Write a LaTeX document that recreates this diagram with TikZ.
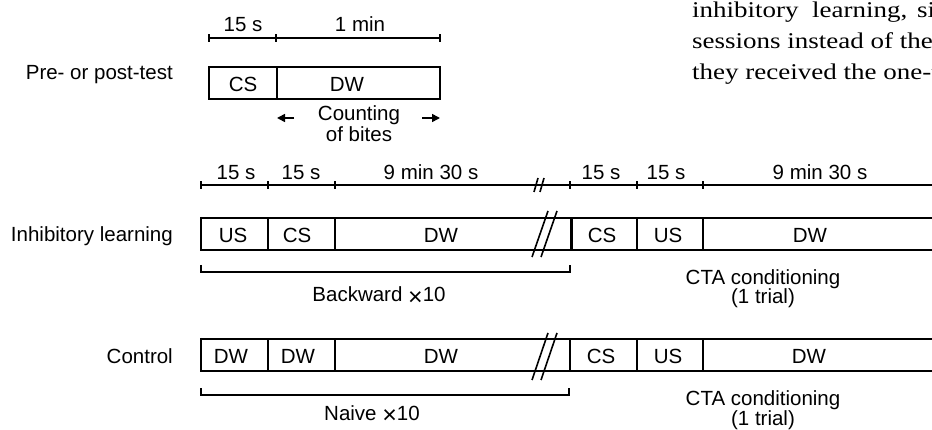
\documentclass[tikz,border=0pt]{standalone}
\usepackage{fontspec}
\setmainfont{Liberation Sans}
\newfontfamily\bodyserif{Liberation Serif}[FakeStretch=1.2]
\usetikzlibrary{arrows.meta}
\newcommand{\bigtimes}{\raisebox{-3.5pt}{\fontsize{25}{25}\selectfont ×}}
\begin{document}
\begin{tikzpicture}[x=1pt,y=-1pt,
  lbl/.style={anchor=base, inner sep=0pt, font=\fontsize{20.5}{23}\selectfont},
  rlbl/.style={lbl, anchor=base east},
  sertext/.style={anchor=base west, inner sep=0pt, font=\bodyserif\fontsize{22.5}{32}\selectfont},
  boxline/.style={line width=2pt},
  thickdiv/.style={line width=3pt},
  scaleline/.style={line width=1.6pt},
  brk/.style={line width=1.6pt},
  brack/.style={line width=1.2pt},
  tickmark/.style={fill=black, inner sep=0pt, minimum width=1.8pt, minimum height=8pt},
  arr/.style={-{Triangle[length=8pt,width=8pt]}, line width=1.6pt}]
\useasboundingbox (0,0) rectangle (932,430);
\clip (0,0) rectangle (932,430);

% ---------- page text (top right) ----------
\node[sertext] (pa) at (692,17.3) {inhibitory};
\node[sertext] (pb) at (812,17.3) {learning,};
\node[sertext] (pc) at (917,17.3) {si};
\node[sertext] (pd) at (692,48.5) {sessions instead of the};
\node[sertext] (pe) at (692,80) {they received the one-t};

% ---------- pre/post test ----------
\node[rlbl] (lpre) at (173,80) {Pre- or post-test};
\node[tickmark] (ta) at (209,38) {};
\node[tickmark] (tb) at (276,38) {};
\node[tickmark] (tc) at (440,38) {};
\draw[scaleline] (ta.center) -- (tc.center);
\node[lbl] (sa) at (243,31.7) {15 s};
\node[lbl] (sb) at (360,31.7) {1 min};
\draw[boxline] (209,67) rectangle (440,99);
\draw[boxline] (277,67) -- (277,99);
\node[lbl] (pcs) at (243,91.7) {CS};
\node[lbl] (pdw) at (347,91.7) {DW};
\node[lbl] (cnt1) at (359,120.7) {Counting};
\node[lbl] (cnt2) at (359,141.7) {of bites};
\coordinate (la1) at (294,118);
\coordinate (la2) at (277,118);
\coordinate (ra1) at (422,118);
\coordinate (ra2) at (440,118);
\draw[arr] (la1) -- (la2);
\draw[arr] (ra1) -- (ra2);

% ---------- middle time scale ----------
\node[tickmark] (m0) at (201,185) {};
\node[tickmark] (m1) at (268,185) {};
\node[tickmark] (m2) at (335,185) {};
\node[tickmark] (m3) at (570,185) {};
\node[tickmark] (m4) at (637,185) {};
\node[tickmark] (m5) at (703,185) {};
\coordinate (mend) at (932,185);
\draw[scaleline] (m0.center) -- (mend);
\draw[brk] (538,178) -- (534,192);
\draw[brk] (544,178) -- (540,192);
\node[lbl] (ma) at (236,180) {15 s};
\node[lbl] (mb) at (301,180) {15 s};
\node[lbl] (mc) at (431,180) {9 min 30 s};
\node[lbl] (md) at (601,180) {15 s};
\node[lbl] (me) at (666,180) {15 s};
\node[lbl] (mf) at (820,180) {9 min 30 s};

% ---------- inhibitory learning ----------
\node[rlbl] (lil) at (173,241.7) {Inhibitory learning};
\draw[boxline] (201,218) -- (934,218);
\draw[boxline] (201,250) -- (934,250);
\draw[boxline] (201,217) -- (201,251);
\draw[boxline] (268,218) -- (268,250);
\draw[boxline] (335,218) -- (335,250);
\draw[thickdiv] (571,218) -- (571,250);
\draw[boxline] (637,218) -- (637,250);
\draw[boxline] (703,218) -- (703,250);
\draw[brk] (548,211) -- (532,257);
\draw[brk] (557,211) -- (541,257);
\node[lbl] (ilus) at (233,243) {US};
\node[lbl] (ilcs) at (297,243) {CS};
\node[lbl] (ildw) at (441,243) {DW};
\node[lbl] (ilcs2) at (602,243) {CS};
\node[lbl] (ilus2) at (668,243) {US};
\node[lbl] (ildw2) at (810,243) {DW};
\draw[brack] (201,265) -- (201,272) -- (570,272) -- (570,265);
\node[lbl] (bw) at (379,302) {Backward \bigtimes10};
\node[lbl] (cta1) at (763,285) {CTA conditioning};
\node[lbl] (tr1) at (763,304) {(1 trial)};

% ---------- control ----------
\node[rlbl] (lct) at (173,363) {Control};
\draw[boxline] (201,339) -- (934,339);
\draw[boxline] (201,371) -- (934,371);
\draw[boxline] (201,338) -- (201,372);
\draw[boxline] (268,339) -- (268,371);
\draw[boxline] (335,339) -- (335,371);
\draw[boxline] (570,339) -- (570,371);
\draw[boxline] (637,339) -- (637,371);
\draw[boxline] (703,339) -- (703,371);
\draw[brk] (548,333) -- (532,380);
\draw[brk] (557,333) -- (541,380);
\node[lbl] (cdw1) at (231,363) {DW};
\node[lbl] (cdw2) at (298,363) {DW};
\node[lbl] (cdw3) at (441,363) {DW};
\node[lbl] (ccs) at (601,363) {CS};
\node[lbl] (cus) at (668,363) {US};
\node[lbl] (cdw4) at (809,363) {DW};
\draw[brack] (201,388) -- (201,395) -- (569,395) -- (569,388);
\node[lbl] (nv) at (372,420) {Naive \bigtimes10};
\node[lbl] (cta2) at (763,405) {CTA conditioning};
\node[lbl] (tr2) at (763,425) {(1 trial)};
\end{tikzpicture}
\end{document}
